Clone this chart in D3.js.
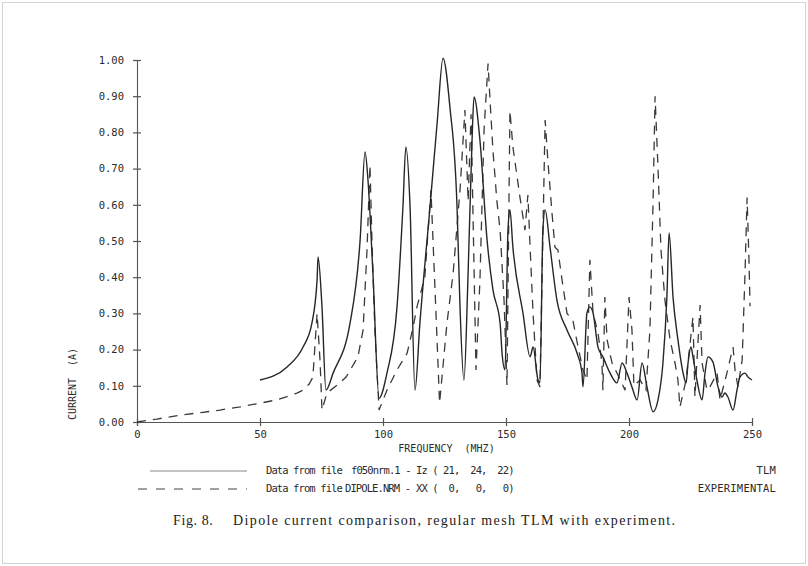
<!DOCTYPE html>
<html>
<head>
<meta charset="utf-8">
<script src="https://cdn.jsdelivr.net/npm/d3@7/dist/d3.min.js"></script>
<style>
  html, body { margin: 0; padding: 0; background: #ffffff; }
  svg { display: block; }
  text.pre { white-space: pre; }
</style>
</head>
<body>
<svg id="chart" width="808" height="566"></svg>
<script>
// ---------------- data ----------------
const xTicks = [0, 50, 100, 150, 200, 250];
const yTicks = [0, 0.1, 0.2, 0.3, 0.4, 0.5, 0.6, 0.7, 0.8, 0.9, 1.0];

// TLM (solid)
const tlmFreq = [50.0, 61.0, 67.5, 71.1, 73.2, 73.6, 75.2, 76.8, 79.7, 86.6, 90.7, 92.7, 93.9, 95.9, 98.4,
  101.6, 105.7, 108.1, 109.3, 111.0, 113.0, 115.0, 119.1, 122.0, 124.4, 127.2, 130.1, 131.3, 132.9,
  134.6, 136.2, 137.0, 139.4, 142.3, 144.7, 147.6, 148.4, 149.6, 150.8, 151.6, 152.8, 156.9, 159.8,
  161.0, 163.0, 163.8, 165.0, 165.9, 167.9, 170.7, 174.8, 178.9, 180.9, 181.3, 182.9, 184.1, 185.4,
  187.4, 189.4, 192.3, 195.1, 197.2, 199.2, 201.2, 203.3, 205.3, 207.3, 209.8, 211.8, 213.8, 215.4,
  216.3, 217.9, 219.9, 222.0, 223.2, 224.0, 225.2, 226.0, 227.6, 229.7, 230.9, 232.1, 234.1, 236.2,
  237.8, 239.0, 240.2, 242.3, 243.9, 245.1, 247.2, 248.4, 250.0];
const tlmCurrent = [0.116, 0.152, 0.207, 0.273, 0.392, 0.456, 0.318, 0.088, 0.135, 0.273, 0.503, 0.746, 0.668, 0.412, 0.066,
  0.135, 0.318, 0.594, 0.760, 0.594, 0.088, 0.273, 0.594, 0.826, 1.005, 0.870, 0.594, 0.318, 0.116,
  0.412, 0.779, 0.898, 0.779, 0.503, 0.365, 0.273, 0.190, 0.144, 0.530, 0.586, 0.483, 0.301, 0.180,
  0.207, 0.116, 0.108, 0.530, 0.586, 0.483, 0.337, 0.254, 0.190, 0.135, 0.097, 0.301, 0.318, 0.301,
  0.207, 0.180, 0.135, 0.108, 0.163, 0.135, 0.097, 0.061, 0.163, 0.097, 0.028, 0.061, 0.163, 0.345,
  0.522, 0.345, 0.227, 0.135, 0.108, 0.163, 0.207, 0.180, 0.116, 0.061, 0.135, 0.180, 0.166, 0.097,
  0.069, 0.080, 0.069, 0.033, 0.088, 0.124, 0.135, 0.124, 0.116];

// Experimental (dashed)
const expFreq = [0, 8, 17.5, 26, 33.7, 42, 50, 56, 61, 65, 67.5, 70, 71.5, 73.2, 74.4, 75.2, 77.2, 81, 85,
  89.8, 91.9, 93.5, 94.7, 95.5, 96.7, 97.6, 98.4, 101.6, 105.7, 109.8, 112.2, 113.8, 117, 119.5, 121,
  123, 126, 128.5, 131.3, 133.3, 134.6, 135.8, 137.8, 139.4, 141.1, 142.7, 143.5, 144.7, 146.3, 147.6,
  149.2, 150.4, 151.6, 152.8, 155.7, 157.7, 158.9, 159.8, 161.0, 162.6, 163.8, 165.9, 167.1, 168.7,
  169.9, 171.1, 172.8, 174.8, 177.2, 179.3, 181.3, 182.9, 184.1, 185.4, 187.4, 189.0, 189.4, 190.2,
  191.1, 193.1, 195.5, 198.4, 200.0, 201.2, 202.0, 204.5, 206.9, 208.5, 209.8, 210.6, 211.8, 213.0,
  214.6, 216.7, 218.7, 219.9, 220.7, 223.2, 226.0, 226.8, 228.9, 229.7, 231.7, 232.9, 235.8, 237.0,
  239.8, 242.3, 243.1, 244.3, 246.0, 247.2, 248.0, 248.8, 249.2];
const expCurrent = [0.000, 0.008, 0.019, 0.026, 0.033, 0.042, 0.052, 0.060, 0.070, 0.080, 0.088, 0.105, 0.124, 0.300, 0.170, 0.033, 0.080, 0.100, 0.124,
  0.180, 0.254, 0.475, 0.710, 0.503, 0.254, 0.135, 0.033, 0.088, 0.144, 0.190, 0.260, 0.318, 0.400, 0.640, 0.390,
  0.052, 0.273, 0.410, 0.640, 0.862, 0.610, 0.850, 0.144, 0.390, 0.810, 0.990, 0.890, 0.750, 0.610, 0.530,
  0.337, 0.102, 0.860, 0.760, 0.620, 0.530, 0.627, 0.483, 0.300, 0.116, 0.097, 0.834, 0.715, 0.577,
  0.483, 0.475, 0.392, 0.300, 0.280, 0.207, 0.144, 0.116, 0.448, 0.300, 0.246, 0.163, 0.088, 0.345,
  0.227, 0.163, 0.130, 0.088, 0.345, 0.254, 0.100, 0.116, 0.088, 0.254, 0.613, 0.900, 0.700, 0.475,
  0.337, 0.227, 0.163, 0.116, 0.041, 0.116, 0.290, 0.069, 0.323, 0.163, 0.088, 0.097, 0.135, 0.061,
  0.135, 0.207, 0.144, 0.097, 0.171, 0.420, 0.620, 0.440, 0.320];

const yLabel = "CURRENT  (A)";
const xLabel = "FREQUENCY  (MHZ)";
const legendPrefix = ["Data from file", "Data from file"];
const legendFile = ["f050nrm.1 -", "DIPOLE.NRM -"];
const legendSpec = ["Iz ( 21,  24,  22)", "XX (  0,   0,   0)"];
const legendName = ["TLM", "EXPERIMENTAL"];
const captionFig = "Fig. 8.";
const captionText = "Dipole current comparison, regular mesh TLM with experiment.";

// ---------------- drawing ----------------
const svg = d3.select("#chart");
const ink = "#2a2a2a";
const mono = "'DejaVu Sans Mono', 'Liberation Mono', monospace";

// paper frame
svg.append("rect").attr("x", 2.5).attr("y", 2.5).attr("width", 803).attr("height", 561)
  .attr("fill", "#fff").attr("stroke", "#d4d4d4").attr("stroke-width", 1);

const x = d3.scaleLinear().domain([0, 250]).range([137, 752]);
const y = d3.scaleLinear().domain([0, 1]).range([422, 60]);

// axes
const axisColor = "#555";
const yAxis = d3.axisLeft(y).tickValues(yTicks).tickSize(4).tickPadding(6).tickFormat(d3.format(".2f"));
const xAxis = d3.axisBottom(x).tickValues(xTicks).tickSize(4).tickPadding(7).tickFormat(d3.format("d"));

const gy = svg.append("g").attr("transform", `translate(${x(0)},0)`).call(yAxis);
const gx = svg.append("g").attr("transform", `translate(0,${y(0)})`).call(xAxis);

[gx, gy].forEach(g => {
  g.select(".domain").attr("stroke", axisColor).attr("stroke-width", 1.1);
  g.selectAll(".tick line").attr("stroke", axisColor).attr("stroke-width", 1.2);
  g.selectAll(".tick text").attr("fill", ink).attr("font-family", mono).attr("font-size", 10.5);
});
// ticks cross the axis (both sides)
gy.selectAll(".tick line").attr("x1", 4).attr("x2", -4);
gy.selectAll(".tick text").attr("x", -13);
gx.selectAll(".tick line").attr("y1", -4).attr("y2", 4);
gx.selectAll(".tick text").attr("y", 9);

// axis titles
svg.append("text").attr("class", "pre")
  .attr("transform", `translate(76,${y(0.105)}) rotate(-90)`)
  .attr("text-anchor", "middle").attr("fill", ink)
  .attr("font-family", mono).attr("font-size", 10)
  .text(yLabel);
svg.append("text").attr("class", "pre")
  .attr("x", (x(0) + x(250)) / 2 + 2).attr("y", 452)
  .attr("text-anchor", "middle").attr("fill", ink)
  .attr("font-family", mono).attr("font-size", 10)
  .text(xLabel);

// lines
const tlmData = tlmFreq.map((f, i) => [f, tlmCurrent[i]]);
const expData = expFreq.map((f, i) => [f, expCurrent[i]]);

const lineSolid = d3.line().x(d => x(d[0])).y(d => y(d[1])).curve(d3.curveMonotoneX);
const lineDash = d3.line().x(d => x(d[0])).y(d => y(d[1])).curve(d3.curveLinear);

svg.append("path").datum(expData)
  .attr("d", lineDash).attr("fill", "none").attr("stroke", "#3a3a3a")
  .attr("stroke-width", 1.3).attr("stroke-dasharray", "9,7");

svg.append("path").datum(tlmData)
  .attr("d", lineSolid).attr("fill", "none").attr("stroke", "#262626")
  .attr("stroke-width", 1.4).attr("stroke-linejoin", "round");

// legend
const legY = [474, 492];
const fileX = [351, 345];
legY.forEach((yy, i) => {
  const dashed = i === 1;
  svg.append("line").attr("x1", dashed ? 138 : 150).attr("x2", 247).attr("y1", yy - 3).attr("y2", yy - 3)
    .attr("stroke", dashed ? "#444" : "#888").attr("stroke-width", 1.1)
    .attr("stroke-dasharray", dashed ? "9,9" : null);
  const t = svg.append("g").attr("font-family", mono).attr("font-size", 10.5).attr("fill", ink)
    .attr("letter-spacing", -0.9);
  t.append("text").attr("class", "pre").attr("x", 266).attr("y", yy).text(legendPrefix[i]);
  t.append("text").attr("class", "pre").attr("x", fileX[i]).attr("y", yy).text(legendFile[i]);
  t.append("text").attr("class", "pre").attr("x", 416).attr("y", yy).text(legendSpec[i]);
  t.append("text").attr("class", "pre").attr("x", 776).attr("y", yy).attr("text-anchor", "end")
    .attr("letter-spacing", 0.2).text(legendName[i]);
});

// caption
const cap = svg.append("g").attr("font-family", "'Liberation Serif', 'Times New Roman', serif")
  .attr("font-size", 14).attr("fill", "#222");
cap.append("text").attr("x", 173).attr("y", 525).attr("letter-spacing", 0.6).text(captionFig);
cap.append("text").attr("x", 233).attr("y", 525).attr("letter-spacing", 0.9)
  .attr("textLength", 443).attr("lengthAdjust", "spacing").text(captionText);
</script>
</body>
</html>
